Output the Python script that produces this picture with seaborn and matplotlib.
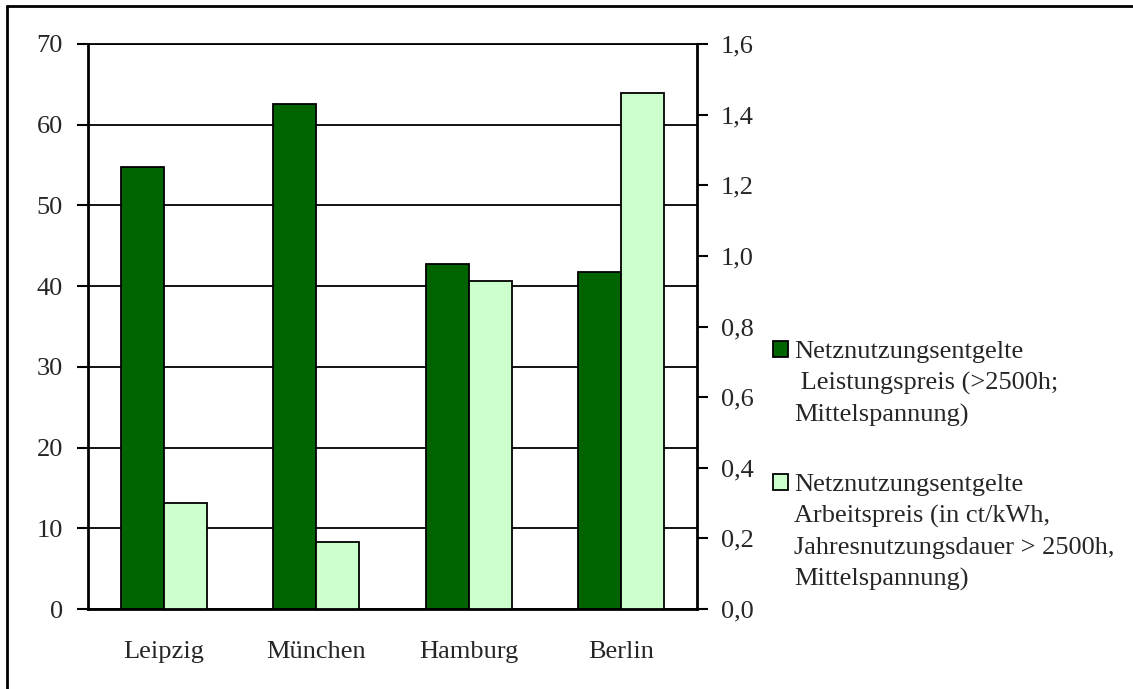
import numpy as np
import pandas as pd
import matplotlib
matplotlib.use("Agg")
import matplotlib.pyplot as plt
from matplotlib.lines import Line2D
from matplotlib.ticker import FuncFormatter
import seaborn as sns

# Data
cities = ["Leipzig", "München", "Hamburg", "Berlin"]
leistungspreis = [54.7, 62.6, 42.7, 41.8]      # left axis
arbeitspreis = [0.30, 0.19, 0.93, 1.46]        # right axis
labels = ["Netznutzungsentgelte\n Leistungspreis (>2500h;\nMittelspannung)",
          "Netznutzungsentgelte\nArbeitspreis (in ct/kWh,\nJahresnutzungsdauer > 2500h,\nMittelspannung)"]
colors = ["#006400", "#CCFFCC"]
left_ticks = [0, 10, 20, 30, 40, 50, 60, 70]
right_ticks = [0.0, 0.2, 0.4, 0.6, 0.8, 1.0, 1.2, 1.4, 1.6]

sns.set_style("white")
plt.rcParams["font.family"] = ["Liberation Serif", "DejaVu Serif"]
FS = 19

# long table: each series only carries values on its own axis
nan = [np.nan] * len(cities)
df = pd.DataFrame({
    "Stadt": cities + cities,
    "Reihe": [labels[0]] * len(cities) + [labels[1]] * len(cities),
    "Links": leistungspreis + nan,
    "Rechts": nan + arbeitspreis,
})
palette = dict(zip(labels, colors))

W, H = 1133, 689
fig = plt.figure(figsize=(W / 100, H / 100), dpi=100)
ax = fig.add_axes([88 / W, 1 - 609 / H, (697 - 88) / W, (609 - 44) / H])
ax2 = ax.twinx()

bar_kw = dict(x="Stadt", hue="Reihe", hue_order=labels, order=cities, palette=palette,
              width=0.566, edgecolor="black", linewidth=1.3, saturation=1, legend=False)
sns.barplot(data=df, y="Links", ax=ax, **bar_kw)
sns.barplot(data=df, y="Rechts", ax=ax2, **bar_kw)

ax.set_xlim(-0.5, 3.5)
ax.set_ylim(0, 70)
ax2.set_ylim(0, 1.6)
ax.set_yticks(left_ticks)
ax2.set_yticks(right_ticks)
ax2.yaxis.set_major_formatter(FuncFormatter(lambda v, p: f"{v:.1f}".replace(".", ",")))

ax.grid(axis="y", color="black", linewidth=1.3)
ax.set_axisbelow(True)

# category labels on minor ticks, tick marks between categories
ax.set_xticks([-0.5, 0.5, 1.5, 2.5, 3.5])
ax.set_xticklabels([])
ax.set_xticks(range(len(cities)), minor=True)
ax.set_xticklabels(cities, minor=True)
ax.tick_params(axis="x", which="major", direction="out", length=8, width=1.5, color="black")
ax.tick_params(axis="x", which="minor", length=0, pad=23, labelsize=FS)
ax.tick_params(axis="y", direction="out", length=8, width=1.5, color="black", pad=10, labelsize=FS, left=True)
ax2.tick_params(axis="y", direction="out", length=8, width=1.5, color="black", pad=9, labelsize=FS, right=True)

for a in (ax, ax2):
    a.set_xlabel("")
    a.set_ylabel("")
    for s in a.spines.values():
        s.set_color("black")
ax.spines["left"].set_linewidth(2)
ax.spines["bottom"].set_linewidth(2)
ax.spines["top"].set_linewidth(1.3)
ax.spines["right"].set_visible(False)
ax2.spines["right"].set_linewidth(2)
ax2.spines["left"].set_visible(False)
ax2.spines["bottom"].set_visible(False)
ax2.spines["top"].set_visible(False)

# legend from the bar containers
h_dark = [p for c in ax.containers for p in c.patches if np.isfinite(p.get_height())][0]
h_light = [p for c in ax2.containers for p in c.patches if np.isfinite(p.get_height())][0]
leg = fig.legend([h_dark, h_light], labels, loc="upper left", bbox_to_anchor=(773 / W, 1 - 341 / H),
                 frameon=False, fontsize=FS, handlelength=0.56, handleheight=0.56,
                 handletextpad=0.25, labelspacing=1.8, borderpad=0, borderaxespad=0)
for t in leg.get_texts():
    t.set_linespacing(1.5)
for col in leg._legend_handle_box.get_children():
    for row in col.get_children():
        row.align = "top"

# partial frame around the chart (top and left only)
fig.add_artist(Line2D([7 / W, 7 / W], [0, 1 - 6 / H], color="black", linewidth=2))
fig.add_artist(Line2D([7 / W, 1], [1 - 6 / H, 1 - 6 / H], color="black", linewidth=2))

fig.savefig("out.png", dpi=100, facecolor="white")
